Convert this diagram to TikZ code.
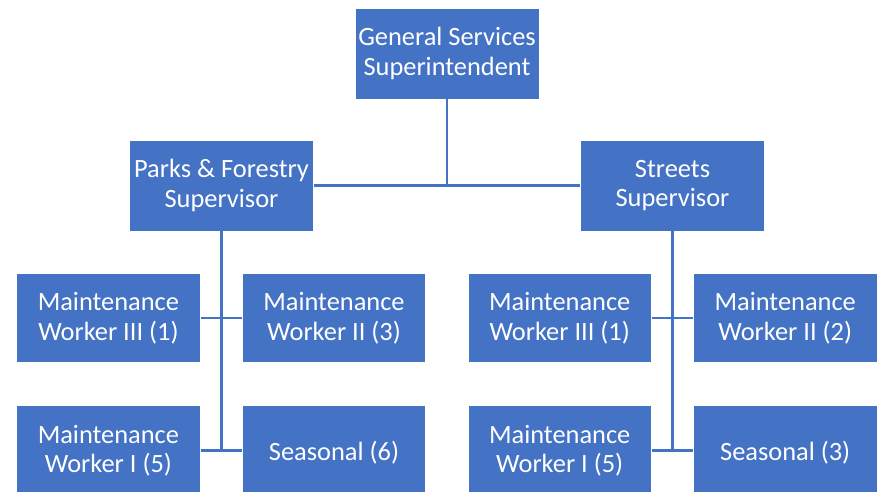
\documentclass[tikz,border=0pt]{standalone}
\usepackage{fontspec}
\setmainfont{Carlito}
\definecolor{boxblue}{HTML}{4472C4}
\begin{document}
\begin{tikzpicture}[x=1pt,y=-1pt,
  orgbox/.style={rectangle, fill=boxblue, draw=white, line width=0.8pt,
    minimum width=184pt, minimum height=91pt, inner sep=0pt,
    text=white, align=center, font=\fontsize{26.4}{29.5}\selectfont,
    execute at begin node={\rule{0pt}{24pt}}},
  link/.style={draw=boxblue, line width=2.4pt}]
\useasboundingbox (0,0) rectangle (884,492);
\begin{scope}
\clip (0,0) rectangle (884,492);
\node[orgbox] (top) at (447,53.5) {General Services\\Superintendent};
\node[orgbox] (parks) at (221.5,185.5) {Parks \& Forestry\\Supervisor};
\node[orgbox] (streets) at (672.5,185.5) {Streets\\Supervisor};
\node[orgbox, minimum width=183.5pt, minimum height=89.5pt] (p3) at (108.4,318) {Maintenance\\Worker III (1)};
\node[orgbox, minimum width=183.5pt, minimum height=89.5pt] (p2) at (334,318) {Maintenance\\Worker II (3)};
\node[orgbox, minimum width=183.5pt, minimum height=89.5pt] (p1) at (108.4,450.5) {Maintenance\\Worker I (5)};
\node[orgbox, minimum width=183.5pt, minimum height=89.5pt] (ps) at (334,450.5) {Seasonal (6)};
\node[orgbox, minimum width=183.5pt, minimum height=89.5pt] (s3) at (559.7,318) {Maintenance\\Worker III (1)};
\node[orgbox, minimum width=183.5pt, minimum height=89.5pt] (s2) at (785.2,318) {Maintenance\\Worker II (2)};
\node[orgbox, minimum width=183.5pt, minimum height=89.5pt] (s1) at (559.7,450.5) {Maintenance\\Worker I (5)};
\node[orgbox, minimum width=183.5pt, minimum height=89.5pt] (ss) at (785.2,450.5) {Seasonal (3)};
\end{scope}
\coordinate (pend) at (parks.south |- p1.east);
\coordinate (send) at (streets.south |- s1.east);
\path[link] (top.south) -- (top.south |- parks.east);
\path[link] (parks.east) -- (streets.west);
\path[link] (parks.south) -- (pend);
\path[link] (streets.south) -- (send);
\path[link] (p3.east) -- (p2.west);
\path[link] (p1.east) -- (ps.west);
\path[link] (s3.east) -- (s2.west);
\path[link] (s1.east) -- (ss.west);
\end{tikzpicture}
\end{document}
